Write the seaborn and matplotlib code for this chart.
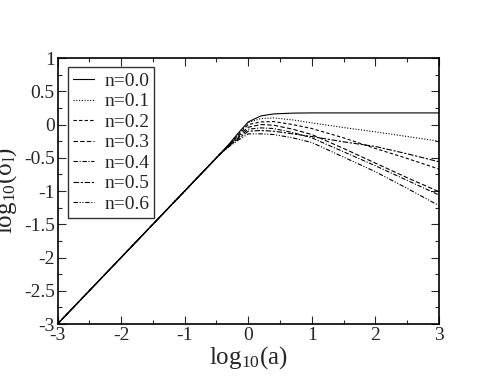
import pandas as pd
import seaborn as sns
import matplotlib.pyplot as plt
from matplotlib.ticker import MultipleLocator, FuncFormatter

# values
log_a = [-3, -0.45, -0.3, -0.15, 0, 0.2, 0.4, 0.7, 1, 1.5, 2, 2.5, 3]
n_labels = ['n=0.0', 'n=0.1', 'n=0.2', 'n=0.3', 'n=0.4', 'n=0.5', 'n=0.6']
sig_00 = [-3, -0.45, -0.29, -0.12, 0.04, 0.13, 0.16, 0.172, 0.175, 0.175, 0.175, 0.175, 0.175]
sig_01 = [-3, -0.45, -0.30, -0.14, 0.03, 0.09, 0.10, 0.07, 0.025, -0.045, -0.11, -0.18, -0.25]
sig_02 = [-3, -0.45, -0.31, -0.15, 0.0, 0.04, 0.045, 0.0, -0.06, -0.2, -0.36, -0.51, -0.67]
sig_03 = [-3, -0.45, -0.31, -0.17, -0.04, 0.0, -0.01, -0.07, -0.15, -0.36, -0.58, -0.8, -1.01]
sig_04 = [-3, -0.45, -0.32, -0.19, -0.07, -0.05, -0.06, -0.12, -0.2, -0.41, -0.62, -0.84, -1.06]
sig_05 = [-3, -0.45, -0.32, -0.21, -0.1, -0.09, -0.1, -0.14, -0.18, -0.26, -0.33, -0.44, -0.56]
sig_06 = [-3, -0.45, -0.33, -0.23, -0.14, -0.14, -0.15, -0.2, -0.27, -0.49, -0.71, -0.96, -1.22]
all_sig = [sig_00, sig_01, sig_02, sig_03, sig_04, sig_05, sig_06]

rows = []
for lab, ys in zip(n_labels, all_sig):
    for x, y in zip(log_a, ys):
        rows.append({'x': x, 'y': y, 'n': lab})
df = pd.DataFrame(rows)

sns.set_style('ticks')
plt.rcParams['font.family'] = ['Liberation Serif', 'DejaVu Serif']
plt.rcParams['mathtext.fontset'] = 'custom'
plt.rcParams['mathtext.rm'] = 'Liberation Serif'
plt.rcParams['mathtext.it'] = 'Liberation Serif'

fig = plt.figure(figsize=(4.94, 3.82), dpi=100)
ax = fig.add_axes([0.1164, 0.1518, 0.7723, 0.6962])

dash_list = ['', (1, 1.5), (3, 2), (4, 2), (4, 1.5, 1, 1.5), (5, 1.5, 2, 1.5), (4, 1.5, 1, 1.5, 1, 1.5)]
sns.lineplot(data=df, x='x', y='y', hue='n', style='n', hue_order=n_labels, style_order=n_labels,
             palette=['black'] * 7, dashes=dash_list, estimator=None, sort=False,
             linewidth=0.8, ax=ax)

ax.set_xlim(-3, 3)
ax.set_ylim(-3, 1)
ax.xaxis.set_major_locator(MultipleLocator(1))
ax.xaxis.set_minor_locator(MultipleLocator(0.5))
ax.yaxis.set_major_locator(MultipleLocator(0.5))
ax.yaxis.set_minor_locator(MultipleLocator(0.25))
fmt = FuncFormatter(lambda v, p: ('%g' % v).replace('\u2212', '-'))
ax.xaxis.set_major_formatter(fmt)
ax.yaxis.set_major_formatter(fmt)
ax.tick_params(which='both', direction='in', top=True, right=True, labelsize=14, pad=2)
ax.tick_params(which='major', length=6, width=0.8)
ax.tick_params(which='minor', length=3, width=0.8)
for s in ax.spines.values():
    s.set_linewidth(1.2)
    s.set_color('black')

ax.set_xlabel(r'log$_{10}$(a)', fontsize=18, labelpad=0)
ax.set_ylabel(r'log$_{10}$($\sigma_{\rm l}$)', fontsize=18)
ax.yaxis.set_label_coords(-0.1, 0.5)

handles, labels = ax.get_legend_handles_labels()
leg = ax.legend(handles[-7:], labels[-7:], loc='upper left', bbox_to_anchor=(0.028, 0.965),
                fontsize=14, handlelength=1.1, handletextpad=0.5, labelspacing=0.15,
                borderpad=0.25, fancybox=False, frameon=True, borderaxespad=0)
leg.get_frame().set_edgecolor('black')
leg.get_frame().set_linewidth(1.0)

fig.savefig('out.png', dpi=100)
